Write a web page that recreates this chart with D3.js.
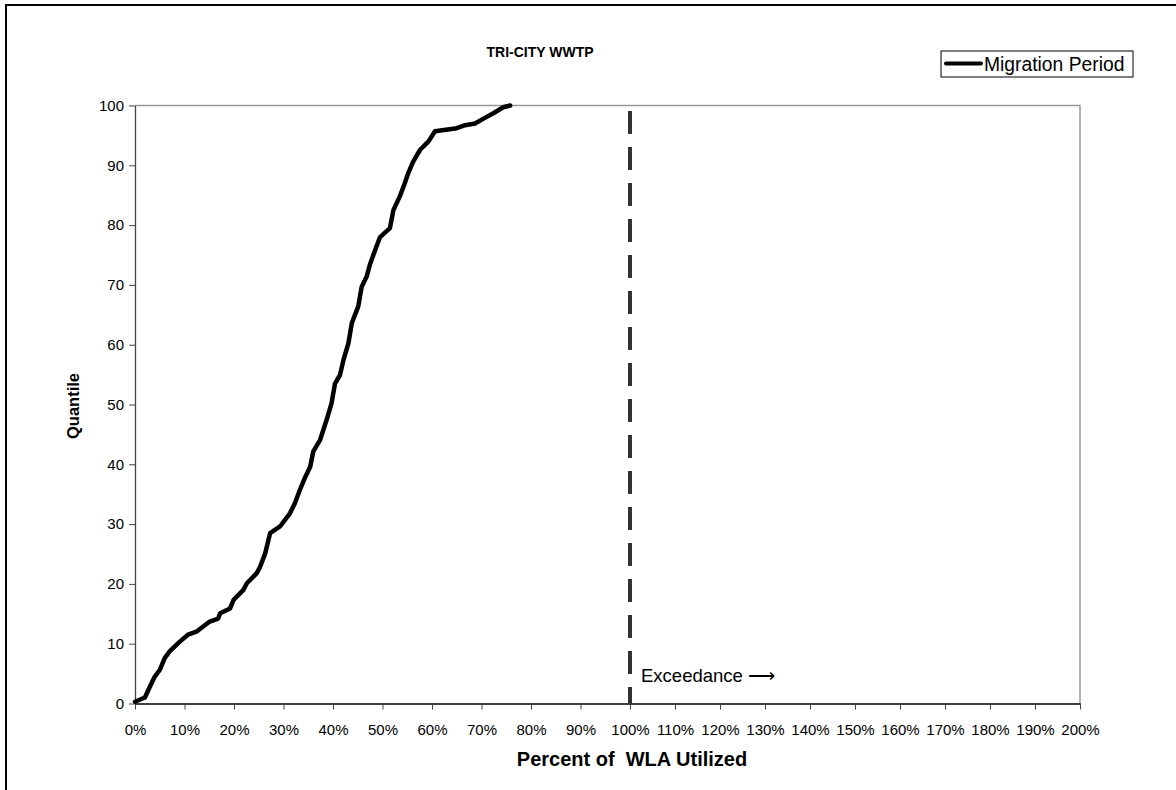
<!DOCTYPE html>
<html><head><meta charset="utf-8">
<script src="https://cdn.jsdelivr.net/npm/d3@7"></script>
<style>body{margin:0;background:#fff}svg{display:block;font-family:"Liberation Sans",Arial,sans-serif}</style>
</head><body>
<svg id="c" width="1176" height="790"></svg>
<script>
const title = "TRI-CITY WWTP";
const seriesName = "Migration Period";
const xLabel = "Percent of  WLA Utilized";
const yLabel = "Quantile";
const annotation = "Exceedance \u27F6";
const limitPct = [100];
const xTicks = d3.range(0, 201, 10);
const yTicks = d3.range(0, 101, 10);
const pct = [0,2,3,4,5,6,7,9,10.7,12.4,15.1,16.8,17.2,19.2,19.9,21.9,22.6,24.6,25.3,26.3,27.3,29.3,31.3,32.3,33.3,34.3,35.4,36,37.4,38.7,39.7,40.4,41.4,42.1,43.1,43.8,45.1,45.8,46.8,47.5,48.5,49.5,51.5,52.2,53.5,54.5,55.2,56.2,57.6,59.3,60.6,65,66.7,68.7,70.4,72.4,74.4,75.8];
const quantile = [0.3,1,2.8,4.5,5.6,7.6,8.7,10.3,11.5,12,13.7,14.2,15.1,15.9,17.3,19,20.1,21.8,22.9,25.1,28.5,29.6,31.8,33.5,35.7,37.7,39.6,42.1,44.1,47.4,50.2,53.5,54.9,57.4,60.2,63.6,66.4,69.7,71.4,73.5,75.8,78,79.5,82.5,84.8,87,88.7,90.6,92.6,94,95.7,96.2,96.7,97,97.8,98.7,99.7,100];

const svg = d3.select("#c");
const L = 135, R = 1080, T = 105.5, B = 703.5;
const x = d3.scaleLinear().domain([0, 100, 200]).range([L, 630, R]);
const y = d3.scaleLinear().domain([0, 100]).range([B, T]);
const FF = "Liberation Sans, Arial, sans-serif";

// outer frame
svg.append("rect").attr("x", 6).attr("y", 5).attr("width", 1180).attr("height", 800)
  .attr("fill", "none").attr("stroke", "#000").attr("stroke-width", 2);

// plot border (top/right gray)
svg.append("path").attr("d", `M${L},${T}H${R}V${B}`).attr("fill", "none").attr("stroke", "#999").attr("stroke-width", 1.5);

// axes
const yAxis = svg.append("g").attr("transform", `translate(${L},0)`)
  .call(d3.axisLeft(y).tickValues(yTicks).tickSize(6).tickPadding(5).tickSizeOuter(0));
yAxis.select(".domain").attr("stroke", "#444").attr("stroke-width", 1.3);
yAxis.selectAll(".tick line").attr("stroke", "#444");
yAxis.selectAll("text").attr("font-size", 15).attr("fill", "#000").attr("font-family", FF);

const xAxis = svg.append("g").attr("transform", `translate(0,${B})`)
  .call(d3.axisBottom(x).tickValues(xTicks).tickFormat(d => d + "%").tickSize(6).tickPadding(15).tickSizeOuter(0));
xAxis.select(".domain").attr("stroke", "#000").attr("stroke-width", 1.5);
xAxis.selectAll(".tick line").attr("stroke", "#444");
xAxis.selectAll("text").attr("font-size", 15).attr("fill", "#000").attr("font-family", FF);

// 100% dashed limit line
svg.selectAll("line.limit").data(limitPct).enter().append("line").attr("class", "limit")
  .attr("x1", d => x(d)).attr("x2", d => x(d)).attr("y1", 111).attr("y2", B)
  .attr("stroke", "#333").attr("stroke-width", 4).attr("stroke-dasharray", "23,13");

// curve
const data = pct.map((p, i) => [p, quantile[i]]);
svg.append("path").datum(data)
  .attr("d", d3.line().x(d => x(d[0])).y(d => y(d[1])).curve(d3.curveLinear))
  .attr("fill", "none").attr("stroke", "#000").attr("stroke-width", 4.5).attr("stroke-linejoin", "round").attr("stroke-linecap", "round");

// title
svg.append("text").attr("x", 540).attr("y", 57).attr("text-anchor", "middle")
  .attr("font-weight", "bold").attr("font-size", 14).text(title);

// legend
const lg = svg.append("g");
lg.append("rect").attr("x", 941).attr("y", 51).attr("width", 192).attr("height", 26)
  .attr("fill", "#fff").attr("stroke", "#000").attr("stroke-width", 1);
lg.append("line").attr("x1", 946).attr("x2", 981).attr("y1", 63.5).attr("y2", 63.5)
  .attr("stroke", "#000").attr("stroke-width", 4).attr("stroke-linecap", "round");
lg.append("text").attr("x", 984).attr("y", 70.5).attr("font-size", 19.3).text(seriesName);

// axis labels
svg.append("text").attr("transform", "translate(79,406) rotate(-90)").attr("text-anchor", "middle")
  .attr("font-weight", "bold").attr("font-size", 16.5).text(yLabel);
svg.append("text").attr("x", 632).attr("y", 766).attr("text-anchor", "middle")
  .attr("font-weight", "bold").attr("font-size", 20).attr("xml:space", "preserve").style("white-space", "pre").text(xLabel);

// annotation
svg.append("text").attr("x", x(limitPct[0]) + 11).attr("y", 682).attr("font-size", 18.5).text(annotation);
</script>
</body></html>
